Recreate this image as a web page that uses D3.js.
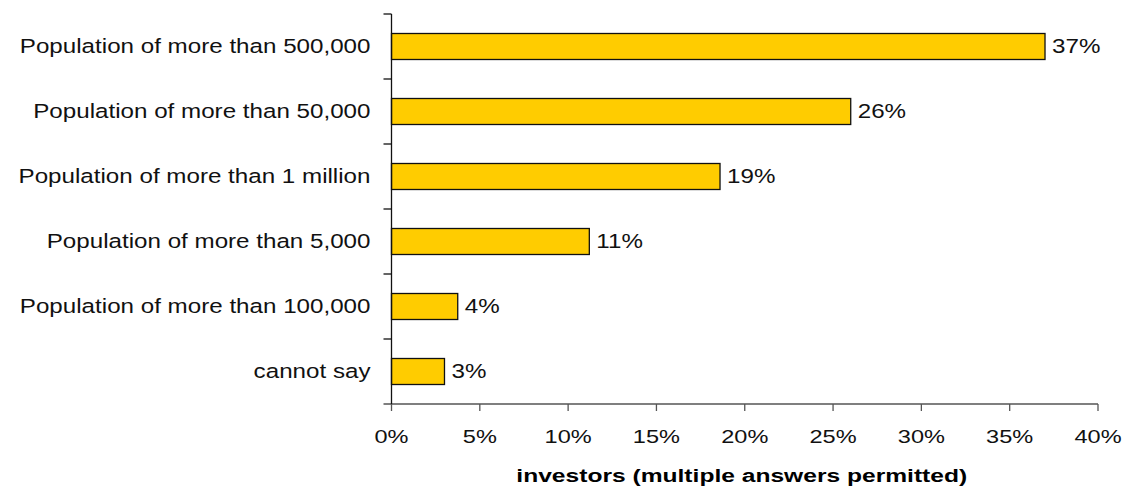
<!DOCTYPE html>
<html>
<head>
<meta charset="utf-8">
<script src="https://cdn.jsdelivr.net/npm/d3@7"></script>
<style>
  html, body { margin: 0; padding: 0; background: #fff; }
  svg { display: block; font-family: "Liberation Sans", Arial, sans-serif; }
</style>
</head>
<body>
<svg id="chart" width="1122" height="488"></svg>
<script>
// categories, top to bottom
var categories = [
  "Population of more than 500,000",
  "Population of more than 50,000",
  "Population of more than 1 million",
  "Population of more than 5,000",
  "Population of more than 100,000",
  "cannot say"
];
// share of investors, in percent (bar lengths)
var values = [37.0, 26.0, 18.6, 11.2, 3.75, 3.0];
var xTicks = [0, 5, 10, 15, 20, 25, 30, 35, 40];
var xTitle = "investors (multiple answers permitted)";

var margin = { top: 14, right: 24, bottom: 84, left: 391.5 };
var width = 1122;
var height = 488;
var stretch = 1.24; // text in the picture is drawn wide

var x = d3.scaleLinear()
  .domain([0, 40])
  .range([margin.left, width - margin.right]);

var y = d3.scaleBand()
  .domain(categories)
  .range([margin.top, height - margin.bottom])
  .paddingInner(0.6)
  .paddingOuter(0.3);

var svg = d3.select("#chart");
var y0 = y.range()[0], y1 = y.range()[1];
var step = y.step();

// bars
svg.append("g")
  .selectAll("rect")
  .data(values)
  .join("rect")
  .attr("x", x(0))
  .attr("y", function (d, i) { return y(categories[i]); })
  .attr("width", function (d) { return x(d) - x(0); })
  .attr("height", y.bandwidth())
  .attr("fill", "#FFCC00")
  .attr("stroke", "#111")
  .attr("stroke-width", 1.3);

// x axis
var xAxis = svg.append("g").attr("transform", "translate(0," + y1 + ")");
xAxis.append("line")
  .attr("x1", x(0) - 8).attr("x2", x(40))
  .attr("stroke", "#555").attr("stroke-width", 1.3);
xAxis.selectAll(".tick")
  .data(xTicks)
  .join("line")
  .attr("x1", function (d) { return x(d); })
  .attr("x2", function (d) { return x(d); })
  .attr("y1", 0).attr("y2", 7)
  .attr("stroke", "#555").attr("stroke-width", 1.3);
xAxis.selectAll("text")
  .data(xTicks)
  .join("text")
  .attr("transform", function (d) { return "translate(" + x(d) + ",39) scale(" + stretch + ",1)"; })
  .attr("text-anchor", "middle")
  .attr("font-size", "19px")
  .attr("fill", "#111")
  .text(function (d) { return d + "%"; });

// y axis
var yAxis = svg.append("g");
yAxis.append("line")
  .attr("x1", x(0)).attr("x2", x(0))
  .attr("y1", y0).attr("y2", y1)
  .attr("stroke", "#111").attr("stroke-width", 1.3);
yAxis.selectAll("line.tick")
  .data(d3.range(categories.length))
  .join("line")
  .attr("class", "tick")
  .attr("x1", x(0) - 8).attr("x2", x(0))
  .attr("y1", function (i) { return y0 + i * step; })
  .attr("y2", function (i) { return y0 + i * step; })
  .attr("stroke", "#111").attr("stroke-width", 1.3);
yAxis.selectAll("text")
  .data(categories)
  .join("text")
  .attr("transform", function (d) {
    return "translate(" + (x(0) - 21) + "," + (y(d) + y.bandwidth() / 2) + ") scale(" + stretch + ",1)";
  })
  .attr("dy", "0.35em")
  .attr("text-anchor", "end")
  .attr("font-size", "19.5px")
  .attr("fill", "#111")
  .text(function (d) { return d; });

// value labels
svg.append("g")
  .selectAll("text")
  .data(values)
  .join("text")
  .attr("transform", function (d, i) {
    return "translate(" + (x(d) + 7) + "," + (y(categories[i]) + y.bandwidth() / 2) + ") scale(" + stretch + ",1)";
  })
  .attr("dy", "0.35em")
  .attr("font-size", "19.5px")
  .attr("fill", "#111")
  .text(function (d) { return Math.round(d) + "%"; });

// axis title
svg.append("text")
  .attr("transform", "translate(" + ((x(0) + x(40)) / 2 - 3) + ",482) scale(1.33,1)")
  .attr("text-anchor", "middle")
  .attr("font-size", "18.5px")
  .attr("font-weight", "bold")
  .attr("fill", "#000")
  .text(xTitle);
</script>
</body>
</html>
